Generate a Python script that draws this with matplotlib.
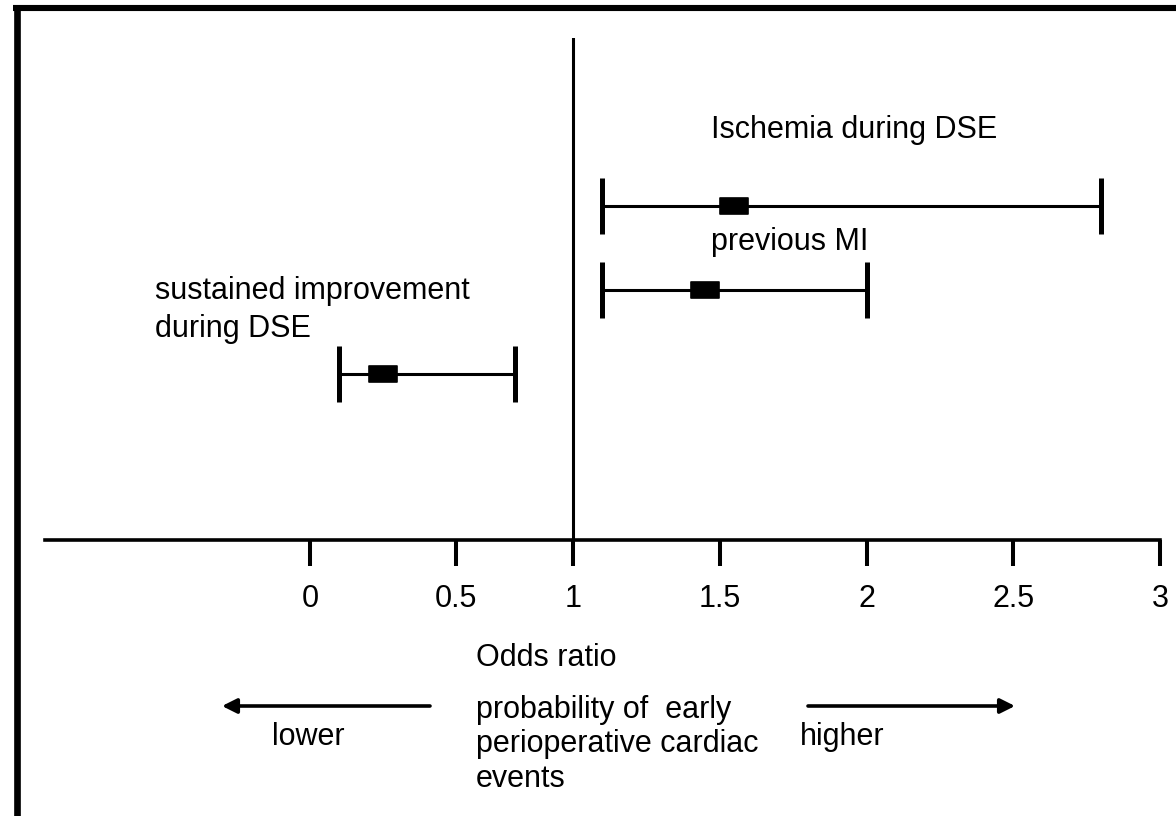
import matplotlib
matplotlib.use('Agg')
import matplotlib.pyplot as plt
import numpy as np
from matplotlib.path import Path
from matplotlib.lines import Line2D

plt.rcParams['font.family'] = ['Liberation Sans', 'DejaVu Sans']

# odds ratios with confidence interval, top row first
factors = ['Ischemia during DSE', 'previous MI', 'sustained improvement\nduring DSE']
odds = [1.55, 1.45, 0.25]
ci_low = [1.1, 1.1, 0.1]
ci_high = [2.8, 2.0, 0.75]
tick_values = [0, 0.5, 1, 1.5, 2, 2.5, 3]
tick_labels = ['0', '0.5', '1', '1.5', '2', '2.5', '3']

W, H = 1176, 816

# the original axis is not evenly spaced below 1, so use a piecewise scale
knots = [-100, 0, 0.5, 1, 103]
knot_px = [310 - 100 * 293.5, 310, 456, 573, 573 + 102 * 293.5]


def fwd(x):
    return np.interp(x, knots, knot_px)


def inv(p):
    return np.interp(p, knot_px, knots)


def fig_xy(px, py):
    # pixel position measured from the top left corner -> figure fraction
    return px / W, 1 - py / H


fig = plt.figure(figsize=(W / 100, H / 100), dpi=100)
ax = fig.add_axes([45 / W, (H - 540) / H, (1160 - 45) / W, (540 - 38) / H])
ax.set_xscale('function', functions=(fwd, inv))

rows = np.arange(len(factors))[::-1] + 1
box = Path([(-0.5, -0.28), (0.5, -0.28), (0.5, 0.28), (-0.5, 0.28), (-0.5, -0.28)],
           [Path.MOVETO, Path.LINETO, Path.LINETO, Path.LINETO, Path.CLOSEPOLY])

for o, lo, hi, r in zip(odds, ci_low, ci_high, rows):
    ax.errorbar(o, r, xerr=[[o - lo], [hi - o]], fmt='none', ecolor='black',
                elinewidth=2.2, capsize=20, capthick=3.6)
ax.plot(odds, rows, ls='none', marker=box, ms=20, color='black', mew=1.2,
        mec='black', solid_joinstyle='round')

ax.axvline(1, color='black', lw=2.2)

ax.set_xlim(inv(45), 3)
ax.set_ylim(-0.976, 5.0)
ax.set_xticks(tick_values)
ax.set_xticklabels(tick_labels)
ax.tick_params(axis='x', length=19, width=2.9, pad=13, labelsize=22, direction='out')
ax.set_yticks([])
for s in ['top', 'right', 'left']:
    ax.spines[s].set_visible(False)
ax.spines['bottom'].set_linewidth(2.6)
ax.patch.set_alpha(0)

# factor labels (baseline of the last line)
label_pos = [(711, 138), (711, 250), (155, 337)]
for name, (px, py) in zip(factors, label_pos):
    fig.text(*fig_xy(px, py), name, fontsize=22, va='baseline', ha='left',
             linespacing=1.34)

fig.text(*fig_xy(476, 666), 'Odds ratio', fontsize=22, va='baseline')
fig.text(*fig_xy(476, 787), 'probability of  early\nperioperative cardiac\nevents',
         fontsize=22, va='baseline', linespacing=1.2)
fig.text(*fig_xy(272, 745), 'lower', fontsize=22, va='baseline')
fig.text(*fig_xy(800, 745), 'higher', fontsize=22, va='baseline')

arrow = dict(arrowstyle='-|>', lw=2.6, color='black', mutation_scale=22, shrinkA=0, shrinkB=0)
ax.annotate('', xy=fig_xy(222, 706), xytext=fig_xy(430, 706),
            xycoords='figure fraction', textcoords='figure fraction', arrowprops=arrow)
ax.annotate('', xy=fig_xy(1015, 706), xytext=fig_xy(808, 706),
            xycoords='figure fraction', textcoords='figure fraction', arrowprops=arrow)

# frame on top and left edge like the scanned figure
fig.add_artist(Line2D([13 / W, 1], [1 - 8 / H] * 2, lw=4.4, color='black',
                      solid_capstyle='butt', transform=fig.transFigure))
fig.add_artist(Line2D([16.5 / W] * 2, [0, 1 - 5 / H], lw=4.8, color='black',
                      solid_capstyle='butt', transform=fig.transFigure))

fig.savefig('out.png', dpi=100)
